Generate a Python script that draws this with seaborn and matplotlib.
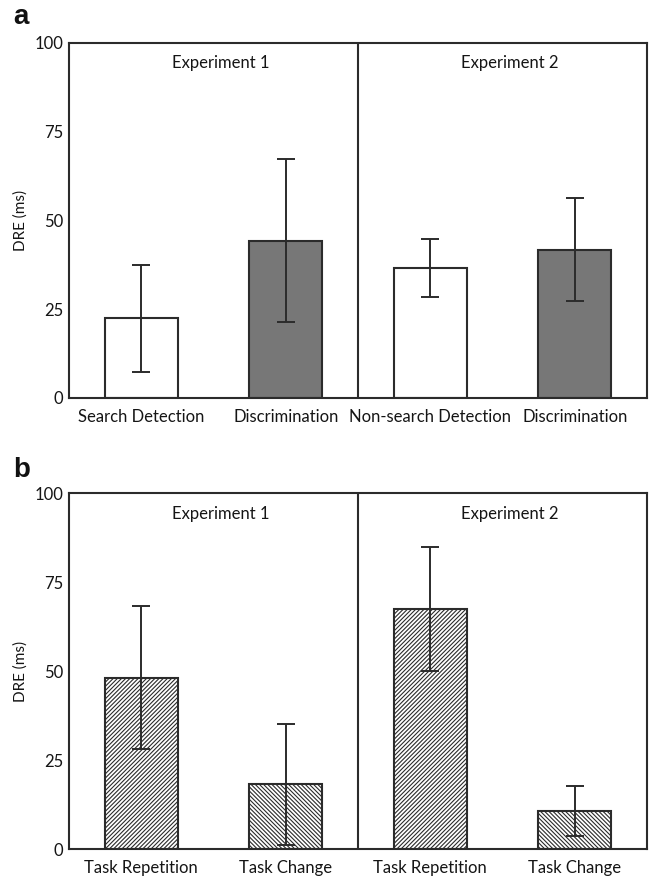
import numpy as np
import pandas as pd
import matplotlib
matplotlib.use("Agg")
import matplotlib.pyplot as plt
import seaborn as sns

# ---- data ----
a_labels = ["Search Detection", "Discrimination", "Non-search Detection", "Discrimination"]
a_values = [22.4, 44.3, 36.7, 41.8]
a_errors = [15.0, 23.0, 8.2, 14.5]
a_colors = ["#ffffff", "#777777", "#ffffff", "#777777"]

b_labels = ["Task Repetition", "Task Change", "Task Repetition", "Task Change"]
b_values = [48.2, 18.3, 67.5, 10.8]
b_errors = [20.0, 17.0, 17.5, 7.0]
b_hatches = ["////////", "\\\\\\\\\\\\\\\\", "////////", "\\\\\\\\\\\\\\\\"]

experiments = ["Experiment 1", "Experiment 2"]
yticks = [0, 25, 50, 75, 100]

sns.set_theme(style="white")
plt.rcParams["font.family"] = ["Lato", "DejaVu Sans"]
plt.rcParams["hatch.linewidth"] = 0.8
plt.rcParams["hatch.color"] = "#333333"

fig = plt.figure(figsize=(6.49, 8.76), dpi=100)
ax_a = fig.add_axes([0.1063, 0.5457, 0.8907, 0.4053])
ax_b = fig.add_axes([0.1063, 0.0305, 0.8907, 0.4064])

edge = "#2b2b2b"
txt = "#151515"

def draw(ax, labels, values, errors, colors, hatches):
    df = pd.DataFrame({"pos": list(range(len(labels))), "val": values})
    sns.barplot(data=df, x="pos", y="val", hue="pos", palette=colors,
                legend=False, width=0.505, edgecolor=edge, linewidth=1.5,
                saturation=1, ax=ax)
    for i, p in enumerate(ax.patches):
        if hatches is not None:
            p.set_hatch(hatches[i])
    ax.errorbar(df["pos"], df["val"], yerr=errors, fmt="none", ecolor=edge,
                elinewidth=1.4, capsize=6.5, capthick=1.4, zorder=5)
    ax.set_xlim(-0.5, 3.5)
    ax.set_ylim(0, 100)
    ax.set_yticks(yticks)
    ax.set_yticklabels([str(t) for t in yticks], fontsize=12)
    ax.set_xticks(range(len(labels)))
    ax.set_xticklabels(labels, fontsize=12)
    ax.tick_params(axis="x", length=0, pad=8, colors=txt)
    ax.tick_params(axis="y", length=0, pad=4, colors=txt)
    ax.set_xlabel("")
    ax.set_ylabel("DRE (ms)", fontsize=11, labelpad=5, color=txt)
    ax.axvline(1.5, color=edge, linewidth=1.5)
    for s in ax.spines.values():
        s.set_color(edge)
        s.set_linewidth(1.5)
    ax.text(0.55, 96.5, experiments[0], ha="center", va="top", fontsize=12, color=txt)
    ax.text(2.55, 96.5, experiments[1], ha="center", va="top", fontsize=12, color=txt)

draw(ax_a, a_labels, a_values, a_errors, a_colors, None)
draw(ax_b, b_labels, b_values, b_errors, ["#ffffff"] * 4, b_hatches)

fig.text(0.02, 0.995, "a", fontsize=20, fontweight="bold", va="top", ha="left",
         color="#111111", family=["Liberation Sans", "DejaVu Sans"])
fig.text(0.02, 0.478, "b", fontsize=20, fontweight="bold", va="top", ha="left",
         color="#111111", family=["Liberation Sans", "DejaVu Sans"])

fig.savefig("out.png", dpi=100)
